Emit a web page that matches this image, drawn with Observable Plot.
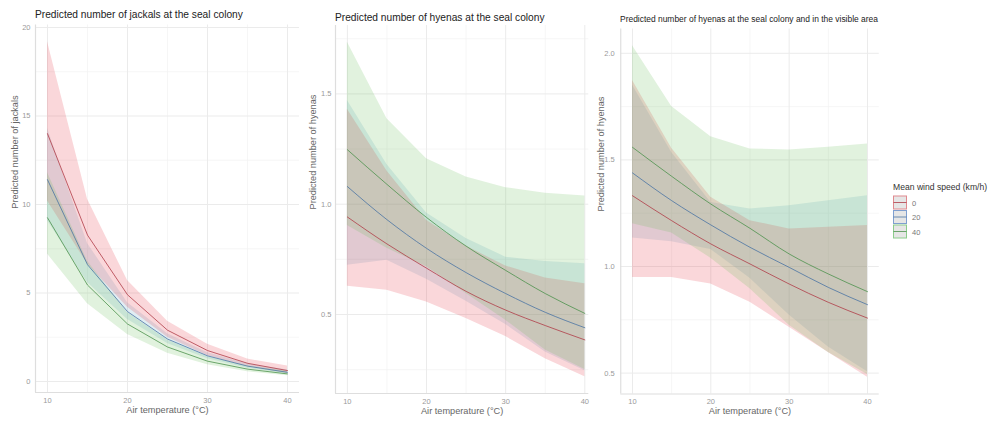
<!DOCTYPE html>
<html><head><meta charset="utf-8">
<script src="https://cdn.jsdelivr.net/npm/d3@7"></script>
<script src="https://cdn.jsdelivr.net/npm/@observablehq/plot@0.6"></script>
<style>
html,body{margin:0;padding:0;background:#fff;}
#wrap{position:relative;width:992px;height:421px;overflow:hidden;font-family:"Liberation Sans",Arial,sans-serif;}
.panel{position:absolute;top:0;}
#overlay{position:absolute;left:0;top:0;}
</style></head><body><div id="wrap"></div>
<script>
// ---------- data ----------
const temps = [10, 15, 20, 25, 30, 35, 40];
const windSpeeds = ["0", "20", "40"];

// Panel 1: jackals at the seal colony
const jackalFit = [
  [14.0, 8.27, 4.9, 2.9, 1.75, 1.03, 0.62],
  [11.4, 6.6, 3.95, 2.4, 1.45, 0.87, 0.52],
  [9.25, 5.45, 3.25, 1.95, 1.15, 0.70, 0.43]
];
const jackalLow = [
  [10.2, 6.64, 4.2, 2.5, 1.45, 0.85, 0.45],
  [9.1, 5.6, 3.5, 2.15, 1.28, 0.75, 0.42],
  [7.2, 4.4, 2.65, 1.6, 0.95, 0.55, 0.32]
];
const jackalHigh = [
  [19.2, 10.3, 5.7, 3.4, 2.1, 1.27, 0.87],
  [14.3, 7.8, 4.45, 2.7, 1.62, 1.0, 0.65],
  [11.8, 6.8, 3.9, 2.35, 1.4, 0.88, 0.58]
];

// Panel 2: hyenas at the seal colony
const hyenaFit = [
  [0.942, 0.82, 0.71, 0.605, 0.52, 0.45, 0.385],
  [1.08, 0.93, 0.80, 0.69, 0.595, 0.51, 0.44],
  [1.247, 1.09, 0.94, 0.81, 0.70, 0.595, 0.505]
];
const hyenaLow = [
  [0.628, 0.61, 0.557, 0.482, 0.40, 0.30, 0.218],
  [0.723, 0.746, 0.66, 0.56, 0.455, 0.33, 0.245],
  [0.904, 0.80, 0.716, 0.595, 0.474, 0.339, 0.251]
];
const hyenaHigh = [
  [1.43, 1.15, 0.927, 0.81, 0.72, 0.665, 0.64],
  [1.47, 1.18, 0.96, 0.845, 0.76, 0.74, 0.73],
  [1.734, 1.387, 1.206, 1.123, 1.075, 1.05, 1.037]
];

// Panel 3: hyenas at the seal colony and in the visible area
const areaFit = [
  [1.332, 1.215, 1.106, 1.012, 0.918, 0.832, 0.758],
  [1.439, 1.309, 1.195, 1.09, 0.996, 0.902, 0.821],
  [1.559, 1.423, 1.293, 1.179, 1.059, 0.965, 0.882]
];
const areaLow = [
  [0.949, 0.949, 0.918, 0.832, 0.715, 0.597, 0.48],
  [1.134, 1.116, 1.08, 0.945, 0.772, 0.622, 0.506],
  [1.2, 1.157, 1.039, 0.896, 0.725, 0.597, 0.494]
];
const areaHigh = [
  [1.872, 1.555, 1.325, 1.215, 1.176, 1.184, 1.192],
  [1.85, 1.535, 1.30, 1.27, 1.285, 1.309, 1.332],
  [2.036, 1.75, 1.609, 1.551, 1.547, 1.559, 1.575]
];

const xTicks = [10, 20, 30, 40];
const xMinor = [15, 25, 35];

// ---------- styles ----------
const ribbonColor = {"0": "#e63746", "20": "#64acca", "40": "#69be5a"};
const ribbonOrder = ["20", "0", "40"];
const lineColor = {"0": "#b03c47", "20": "#4a74a3", "40": "#4c924d"};
const FONT = '"Liberation Sans", Arial, sans-serif';

function rows(fit, low, high) {
  return windSpeeds.flatMap((w, i) => temps.map((t, j) => ({
    wind: w, temp: t, fit: fit[i][j], lo: low[i][j], hi: high[i][j]
  })));
}

function panel(cfg) {
  const data = rows(cfg.fit, cfg.low, cfg.high);
  const ribbons = ribbonOrder.flatMap(w => data.filter(d => d.wind === w));
  const [y0] = cfg.yDomain;
  const [x0] = cfg.xDomain;
  const p = Plot.plot({
    width: cfg.width, height: 421,
    marginLeft: cfg.ml, marginRight: cfg.mr, marginTop: cfg.mt, marginBottom: cfg.mb,
    style: {fontFamily: FONT, background: "transparent", overflow: "visible"},
    x: {domain: cfg.xDomain, axis: null},
    y: {domain: cfg.yDomain, axis: null},
    color: {type: "identity"},
    marks: [
      Plot.gridX(xMinor, {stroke: "#f2f2f2", strokeOpacity: 1, strokeWidth: 0.7}),
      Plot.gridY(cfg.yMinor, {stroke: "#f2f2f2", strokeOpacity: 1, strokeWidth: 0.7}),
      Plot.gridX(xTicks, {stroke: "#ebebeb", strokeOpacity: 1, strokeWidth: 1}),
      Plot.gridY(cfg.yTicks, {stroke: "#ebebeb", strokeOpacity: 1, strokeWidth: 1}),
      Plot.ruleX([x0], {stroke: "#dedede", strokeWidth: 1.2}),
      Plot.ruleY([y0], {stroke: "#dedede", strokeWidth: 1.2}),
      Plot.areaY(ribbons, {x: "temp", y1: "lo", y2: "hi", z: "wind",
        fill: d => ribbonColor[d.wind], fillOpacity: 0.2}),
      Plot.line(data, {x: "temp", y: "fit", z: "wind", stroke: d => lineColor[d.wind],
        strokeWidth: 0.8, curve: cfg.curve}),
      Plot.axisX(xTicks, {tickSize: 0, tickPadding: 5, fontSize: 7.5, fill: "#9a9a9a",
        color: "#9a9a9a", label: null}),
      Plot.axisY(cfg.yTicks, {tickSize: 0, tickPadding: cfg.tp, fontSize: 7.5, fill: "#9a9a9a",
        color: "#9a9a9a", tickFormat: cfg.fmt, label: null}),
      Plot.text(["Air temperature (°C)"], {text: d => d, frameAnchor: "bottom", dy: 20,
        fontSize: 9.2, fill: "#666"}),
      Plot.text([cfg.yLabel], {text: d => d, frameAnchor: "left", dx: cfg.ylx, rotate: -90,
        fontSize: 9.2, fill: "#666"})
    ]
  });
  p.classList.add("panel");
  p.style.left = cfg.left + "px";
  return p;
}

const wrap = document.getElementById("wrap");

wrap.appendChild(panel({
  left: 0, width: 300, ml: 35, mr: 1, mt: 24.5, mb: 29,
  xDomain: [8.5, 41.5], yDomain: [-0.62, 20.14],
  yTicks: [0, 5, 10, 15, 20], yMinor: [2.5, 7.5, 12.5, 17.5], fmt: d3.format("d"), tp: 5,
  fit: jackalFit, low: jackalLow, high: jackalHigh, curve: "linear",
  yLabel: "Predicted number of jackals", ylx: -20
}));

wrap.appendChild(panel({
  left: 300, width: 290, ml: 35, mr: 1.7, mt: 25, mb: 28,
  xDomain: [8.5, 40.5], yDomain: [0.142, 1.81],
  yTicks: [0.5, 1.0, 1.5], yMinor: [0.25, 0.75, 1.25, 1.75], fmt: d3.format(".1f"), tp: 4,
  fit: hyenaFit, low: hyenaLow, high: hyenaHigh, curve: "monotone-x",
  yLabel: "Predicted number of hyenas", ylx: -22
}));

wrap.appendChild(panel({
  left: 590, width: 300, ml: 30.25, mr: 11.25, mt: 28.5, mb: 27.5,
  xDomain: [8.5, 41.5], yDomain: [0.402, 2.114],
  yTicks: [0.5, 1.0, 1.5, 2.0], yMinor: [0.75, 1.25, 1.75], fmt: d3.format(".1f"), tp: 6,
  fit: areaFit, low: areaLow, high: areaHigh, curve: "monotone-x",
  yLabel: "Predicted number of hyenas", ylx: -20
}));

// ---------- overlay: titles and legend ----------
const titles = [
  {text: "Predicted number of jackals at the seal colony", x: 35, y: 17.5, size: 10.2},
  {text: "Predicted number of hyenas at the seal colony", x: 335, y: 20.5, size: 10.2},
  {text: "Predicted number of hyenas at the seal colony and in the visible area", x: 620, y: 22, size: 8.45}
];
const legendTitle = "Mean wind speed (km/h)";
const legendKeyStroke = {"0": "#e08a8f", "20": "#7f9fd0", "40": "#8ccc8c"};

const svg = d3.select(wrap).append("svg").attr("id", "overlay")
  .attr("width", 992).attr("height", 421).style("font-family", FONT);
svg.selectAll("text.title").data(titles).join("text").attr("class", "title")
  .attr("x", d => d.x).attr("y", d => d.y).attr("font-size", d => d.size)
  .attr("fill", "#222").text(d => d.text);

const lg = svg.append("g").attr("transform", "translate(893,0)");
lg.append("text").attr("x", 0).attr("y", 190).attr("font-size", 8.6).attr("fill", "#333").text(legendTitle);
windSpeeds.forEach((w, i) => {
  const y = 196 + i * 14.5;
  lg.append("rect").attr("x", 0.5).attr("y", y).attr("width", 13).attr("height", 13)
    .attr("fill", "#e6e6e6").attr("stroke", legendKeyStroke[w]).attr("stroke-width", 1);
  lg.append("line").attr("x1", 0.5).attr("x2", 13.5).attr("y1", y + 6.5).attr("y2", y + 6.5)
    .attr("stroke", lineColor[w]).attr("stroke-width", 0.8);
  lg.append("text").attr("x", 19).attr("y", y + 9.5).attr("font-size", 7.5).attr("fill", "#777").text(w);
});
</script></body></html>
